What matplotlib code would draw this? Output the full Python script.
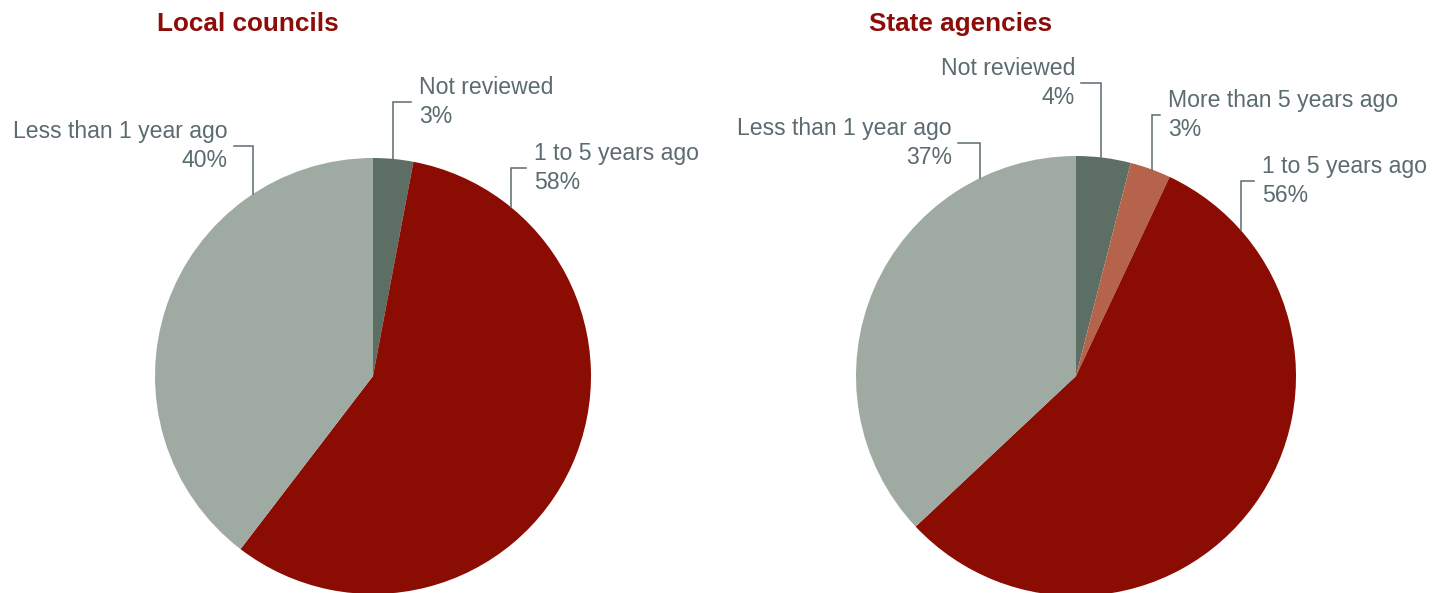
import numpy as np
import matplotlib.pyplot as plt

# review timing shares (%)
local_labels = ["Not reviewed", "1 to 5 years ago", "Less than 1 year ago"]
local_values = [3, 58, 40]
state_labels = ["Not reviewed", "More than 5 years ago", "1 to 5 years ago", "Less than 1 year ago"]
state_values = [4, 3, 56, 37]

C_NOT = "#5d6f64"
C_MORE5 = "#b5634a"
C_1TO5 = "#8b0c02"
C_LESS1 = "#9eaaa2"
TXT = "#5b6b6f"
TITLE = "#8b0c08"

W, H = 1432, 593
fig = plt.figure(figsize=(W / 100, H / 100), dpi=100)
ax = fig.add_axes([0, 0, 1, 1])

def py(y):
    # pixel row -> data y
    return H - y

def pie(center, r, values, colors):
    ax.pie(values, colors=colors, center=(center[0], py(center[1])), radius=r,
           startangle=90, counterclock=False, frame=True,
           wedgeprops=dict(linewidth=0))

def callout(center, r, text, line_x, y, text_x, side):
    # leader: vertical from the pie edge at line_x up to y, then a short stub toward the text
    cx, cy = center[0], py(center[1])
    edge_y = cy + np.sqrt(r ** 2 - (line_x - cx) ** 2)
    stub = text_x - 8 if side == "left" else text_x + 6
    ax.plot([line_x, line_x, stub], [edge_y, py(y), py(y)], color=TXT, lw=1.1,
            solid_joinstyle="miter")
    ax.text(text_x, py(y), text, ha=side, va="center", fontsize=16.6,
            color=TXT, linespacing=1.33, family="Liberation Sans")

# Local councils
lc, lr = (373, 376), 218
pie(lc, lr, local_values, [C_NOT, C_1TO5, C_LESS1])
callout(lc, lr, f"{local_labels[0]}\n{local_values[0]}%", 393, 102, 419, "left")
callout(lc, lr, f"{local_labels[1]}\n{local_values[1]}%", 511, 168, 534, "left")
callout(lc, lr, f"{local_labels[2]}\n{local_values[2]}%", 253, 146, 228, "right")
ax.text(157, py(24), "Local councils", ha="left", va="center", fontsize=18.8,
        fontweight="bold", color=TITLE, family="Liberation Sans")

# State agencies
sc, sr = (1076, 376), 220
pie(sc, sr, state_values, [C_NOT, C_MORE5, C_1TO5, C_LESS1])
callout(sc, sr, f"{state_labels[0]}\n{state_values[0]}%", 1101, 83, 1075, "right")
callout(sc, sr, f"{state_labels[1]}\n{state_values[1]}%", 1152, 115, 1168, "left")
callout(sc, sr, f"{state_labels[2]}\n{state_values[2]}%", 1241, 181, 1262, "left")
callout(sc, sr, f"{state_labels[3]}\n{state_values[3]}%", 980, 143, 952, "right")
ax.text(869, py(24), "State agencies", ha="left", va="center", fontsize=18.8,
        fontweight="bold", color=TITLE, family="Liberation Sans")

ax.set_xlim(0, W)
ax.set_ylim(0, H)
ax.set_aspect("equal")
ax.axis("off")
fig.savefig("out.png", dpi=100, facecolor="white")
